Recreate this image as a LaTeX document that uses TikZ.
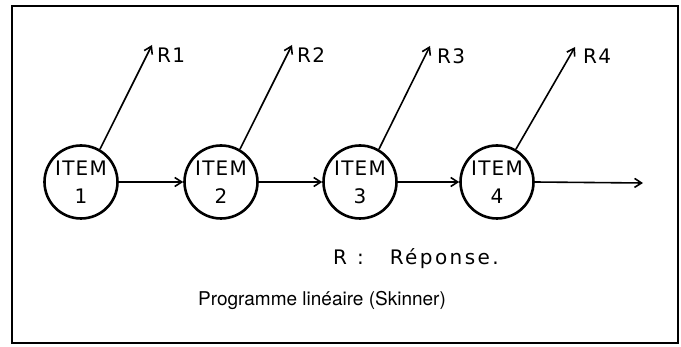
\documentclass[tikz,border=0pt]{standalone}
\usepackage{fontspec}
\setmainfont{DejaVu Sans}
\newfontfamily\hand[LetterSpace=6]{DejaVu Sans}
\newfontfamily\handwide[LetterSpace=12]{DejaVu Sans}
\newfontfamily\capfont{TeX Gyre Heros}
\usetikzlibrary{arrows.meta}
\begin{document}
\begin{tikzpicture}[x=1pt,y=-1pt,
  item/.style={circle,draw,line width=2.6pt,minimum size=73pt,inner sep=0pt,align=center,font=\hand\fontsize{20}{28}\selectfont},
  flow/.style={line width=1.6pt,-{Straight Barb[length=7pt,width=9pt,line width=1.6pt]}},
  lab/.style={font=\hand\fontsize{20}{20}\selectfont,anchor=base west,inner sep=0pt}]
\useasboundingbox (0,0) rectangle (681,347);
\draw[line width=1.8pt] (12,6) rectangle (678,343);
\node[item] (i1) at (81,182) {ITEM\\1};
\node[item] (i2) at (221,182) {ITEM\\2};
\node[item] (i3) at (360,182) {ITEM\\3};
\node[item] (i4) at (497,182) {ITEM\\4};
\coordinate (end) at (643,183);
\draw[flow] (i1) -- (i2);
\draw[flow] (i2) -- (i3);
\draw[flow] (i3) -- (i4);
\draw[flow] (i4.east) -- (end);
\coordinate (t1) at (152,45);
\coordinate (t2) at (292,45);
\coordinate (t3) at (430,46);
\coordinate (t4) at (575,47);
\draw[flow] (i1.60) -- (t1);
\draw[flow] (i2.60) -- (t2);
\draw[flow] (i3.60) -- (t3);
\draw[flow] (i4.60) -- (t4);
\node[lab] (r1) at (157,63) {R1};
\node[lab] (r2) at (297,63) {R2};
\node[lab] (r3) at (437,64) {R3};
\node[lab] (r4) at (583,64) {R4};
\node[lab,font=\handwide\fontsize{20}{20}\selectfont] (rep) at (333,265) {R\hspace{10pt}:\hspace{26pt}Réponse.};
\node[font=\capfont\fontsize{19}{19}\selectfont] (cap) at (322,300) {Programme linéaire (Skinner)};
\end{tikzpicture}
\end{document}
